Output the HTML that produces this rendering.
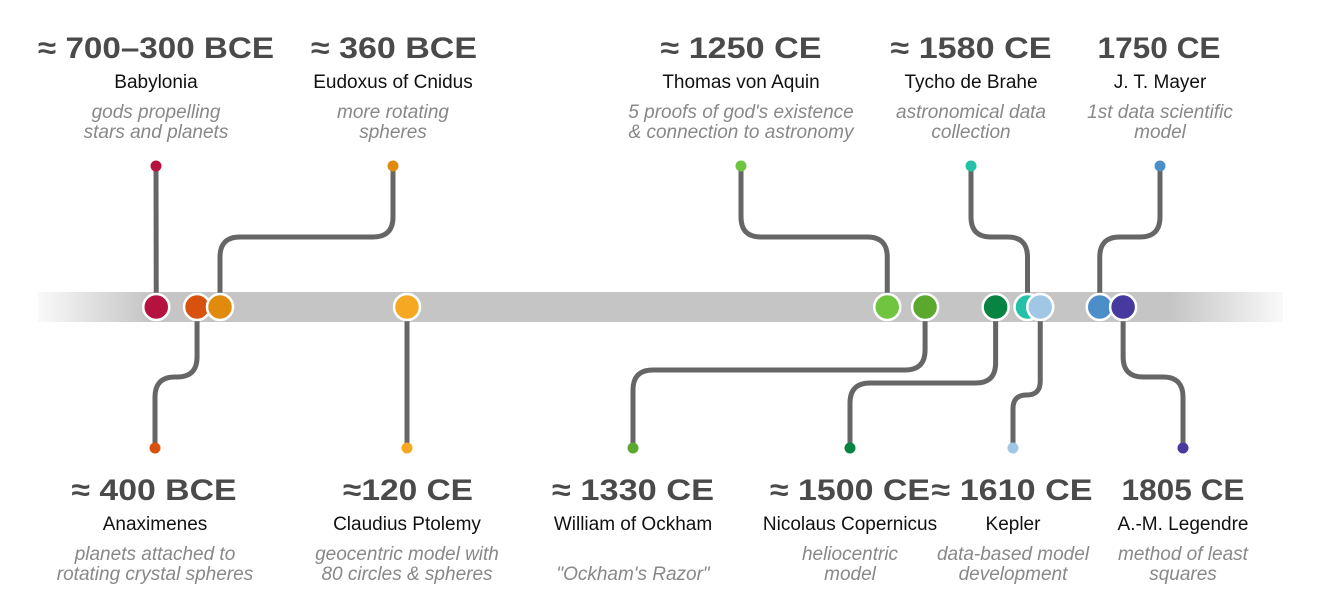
<!DOCTYPE html>
<html><head><meta charset="utf-8"><style>
html,body{margin:0;padding:0;background:#fff;}
svg{display:block;font-family:"Liberation Sans",sans-serif;}
.h{font-weight:bold;font-size:30px;fill:#4a4a4a;text-anchor:middle;}
.n{font-size:19px;fill:#111;text-anchor:middle;}
.d{font-size:19px;font-style:italic;fill:#888;text-anchor:middle;}
</style></head><body>
<svg id="chart" width="1343" height="597" viewBox="0 0 1343 597">
<defs>
<linearGradient id="bg" x1="38" x2="1283" gradientUnits="userSpaceOnUse">
<stop offset="0" stop-color="#c4c5c4" stop-opacity="0.1"/>
<stop offset="0.09" stop-color="#c4c5c4"/>
<stop offset="0.91" stop-color="#c4c5c4"/>
<stop offset="1" stop-color="#c4c5c4" stop-opacity="0.1"/>
</linearGradient>
</defs>
<rect x="38" y="292" width="1245" height="30" fill="url(#bg)"/>
<g id="lines"></g><g id="dots"></g><g id="labels"></g>
</svg>
<script>
const years=[-470,-374,-320,120,1250,1339,1505,1580,1610,1750,1805];
const colors=["#b5123f","#d9510f","#e08a0e","#f6a823","#6fc540","#5aa82e","#078342","#24c0a8","#a0c8e6","#4c8ec8","#473a9e"];
const sides=["top","bottom","top","bottom","top","bottom","bottom","top","bottom","top","bottom"];
const endX=[156,155,393,407,741,633,850,971,1013,1160,1183];
const elbowY=[0,377,237,0,237,370,383,237,395,237,377];
const headings=["≈ 700–300 BCE","≈ 400 BCE","≈ 360 BCE","≈120 CE","≈ 1250 CE","≈ 1330 CE","≈ 1500 CE","≈ 1580 CE","≈ 1610 CE","1750 CE","1805 CE"];
const headW=[236,165,166,130,161,162,160,161,161,123,123];
const headX=[156,154,394,408,741,633,850,971,1012,1159,1183];
const names=["Babylonia","Anaximenes","Eudoxus of Cnidus","Claudius Ptolemy","Thomas von Aquin","William of Ockham","Nicolaus Copernicus","Tycho de Brahe","Kepler","J. T. Mayer","A.-M. Legendre"];
const desc1=["gods propelling","planets attached to","more rotating","geocentric model with","5 proofs of god's existence","","heliocentric","astronomical data","data-based model","1st data scientific","method of least"];
const desc2=["stars and planets","rotating crystal spheres","spheres","80 circles & spheres","& connection to astronomy","\"Ockham's Razor\"","model","collection","development","model","squares"];
const xs=y=>356+0.425*y;
const NS="http://www.w3.org/2000/svg";
const L=document.getElementById('lines'),D=document.getElementById('dots'),T=document.getElementById('labels');
function mk(tag,p,a){const e=document.createElementNS(NS,tag);for(const k in a)e.setAttribute(k,a[k]);p.appendChild(e);return e;}
const CY=307;
years.forEach((yr,i)=>{
  const x=xs(yr),ex=endX[i],top=sides[i]==="top",ey=top?166:448;
  let d;
  if(Math.abs(ex-x)<3){d=`M${ex} ${ey} L${x} ${CY}`;}
  else{
    const r=Math.min(20,Math.abs(ex-x)/2),ys=elbowY[i],sx=Math.sign(x-ex);
    const vy=top?1:-1;
    d=`M${ex} ${ey} L${ex} ${ys-vy*r} Q${ex} ${ys} ${ex+sx*r} ${ys} L${x-sx*r} ${ys} Q${x} ${ys} ${x} ${ys+vy*r} L${x} ${CY}`;
  }
  const p=mk('path',L,{d:d,fill:'none',stroke:'#666','stroke-width':5});
  
  
  const s=mk('circle',L,{cx:ex,cy:ey,r:5.5,fill:colors[i]});
  
  
});
years.forEach((yr,i)=>{
  const c=mk('circle',D,{cx:xs(yr),cy:CY,r:13,fill:colors[i],stroke:'#fff','stroke-width':2.5});
  
  
});
years.forEach((yr,i)=>{
  const top=sides[i]==="top",b=top?0:442,hx=headX[i];
  const h=mk('text',T,{x:hx,y:b+58,'class':'h',textLength:headW[i],lengthAdjust:'spacingAndGlyphs'});h.textContent=headings[i];
  
  
  const n=mk('text',T,{x:endX[i],y:b+88,'class':'n'});n.textContent=names[i];
  
  
  if(desc1[i]){const a=mk('text',T,{x:endX[i],y:b+118,'class':'d'});a.textContent=desc1[i];
  
  }
  const c=mk('text',T,{x:endX[i],y:b+138,'class':'d'});c.textContent=desc2[i];
  
  
});
</script>
</body></html>
